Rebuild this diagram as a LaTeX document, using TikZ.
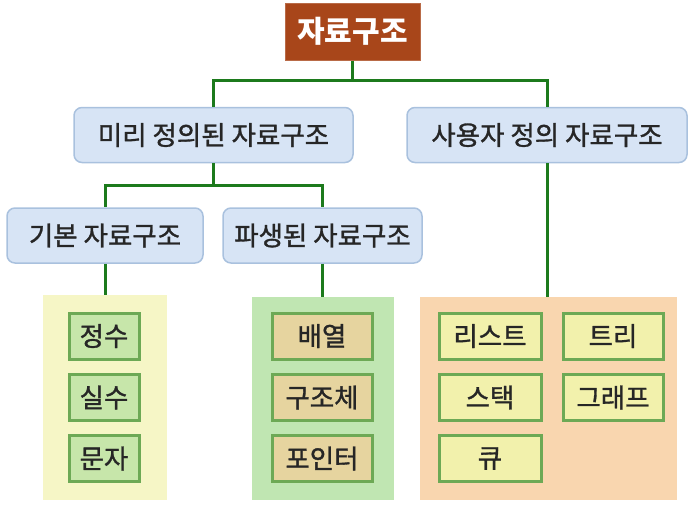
\documentclass[tikz,border=0pt]{standalone}
\usepackage{fontspec}
\setmainfont{Noto Sans CJK KR}
\newfontfamily\labelfont{Noto Sans CJK KR}[FakeBold=1.2]
\usetikzlibrary{positioning}
\definecolor{topfill}{HTML}{A8461A}
\definecolor{bluefill}{HTML}{D7E4F5}
\definecolor{blueline}{HTML}{A9C1DE}
\definecolor{conn}{HTML}{1C7A1C}
\definecolor{ycont}{HTML}{F6F6C6}
\definecolor{gcont}{HTML}{C0E6B2}
\definecolor{ocont}{HTML}{F9D6AF}
\definecolor{itemline}{HTML}{6DA955}
\definecolor{yitem}{HTML}{C7E6AA}
\definecolor{gitem}{HTML}{E6D49F}
\definecolor{oitem}{HTML}{F2F1AC}
\tikzset{
  topbox/.style={draw=topfill!80!white, line width=1pt, fill=topfill, text=white, font=\fontsize{30}{34}\selectfont\bfseries, minimum width=135pt, minimum height=57pt, inner sep=0pt},
  catbox/.style={draw=blueline, line width=1.5pt, fill=bluefill, rounded corners=8pt, font=\labelfont\fontsize{26.5}{30}\selectfont, text=black!85, minimum height=55pt, inner sep=0pt},
  cont/.style={draw=none, minimum height=203pt, inner sep=0pt},
  item/.style={draw=itemline, line width=3pt, font=\labelfont\fontsize{26.5}{30}\selectfont, text=black!85, minimum height=46pt, inner sep=0pt},
  link/.style={draw=conn, line width=3pt},
}
\begin{document}
\begin{tikzpicture}[x=1pt,y=-1pt]
\useasboundingbox (0,0) rectangle (696,507);
% containers
\node[cont, fill=ycont, minimum width=124pt, minimum height=205pt] (yc) at (105,397.5) {};
\node[cont, fill=gcont, minimum width=142pt] (gc) at (323,398.5) {};
\node[cont, fill=ocont, minimum width=257pt] (oc) at (548.5,398.5) {};
% connector levels
\coordinate (h1) at (0,80);
\coordinate (h2) at (0,185);
% boxes
\node[topbox] (root) at (352.5,31.5) {자료구조};
\node[catbox, minimum width=279pt] (pre) at (213.5,135) {미리 정의된 자료구조};
\node[catbox, minimum width=280pt] (user) at (547,135) {사용자 정의 자료구조};
\node[catbox, minimum width=196pt] (basic) at (105,235.5) {기본 자료구조};
\node[catbox, minimum width=199pt] (deriv) at (322.5,235.5) {파생된 자료구조};
% connectors
\draw[link] (root.south) -- (root.south |- h1) -| (pre.north);
\draw[link] (root.south |- h1) -| (user.north);
\draw[link] (pre.south) -- (pre.south |- h2) -| (basic.north);
\draw[link] (pre.south |- h2) -| (deriv.north);
\draw[link] (basic.south) -- (yc.north -| basic.south);
\draw[link] (deriv.south) -- (gc.north -| deriv.south);
\draw[link] (user.south) -- (oc.north -| user.south);
% items
\node[item, fill=yitem, minimum width=70pt] (i1) at (104,336) {정수};
\node[item, fill=yitem, minimum width=70pt] (i2) at (104,397.5) {실수};
\node[item, fill=yitem, minimum width=70pt] (i3) at (104,458.5) {문자};
\node[item, fill=gitem, minimum width=100pt] (g1) at (322,336) {배열};
\node[item, fill=gitem, minimum width=100pt] (g2) at (322,397.5) {구조체};
\node[item, fill=gitem, minimum width=100pt] (g3) at (322,458.5) {포인터};
\node[item, fill=oitem, minimum width=102pt] (o1) at (490,336) {리스트};
\node[item, fill=oitem, minimum width=100pt] (o2) at (613,336) {트리};
\node[item, fill=oitem, minimum width=102pt] (o3) at (490,397.5) {스택};
\node[item, fill=oitem, minimum width=100pt] (o4) at (613,397.5) {그래프};
\node[item, fill=oitem, minimum width=102pt] (o5) at (490,458.5) {큐};
\end{tikzpicture}
\end{document}
